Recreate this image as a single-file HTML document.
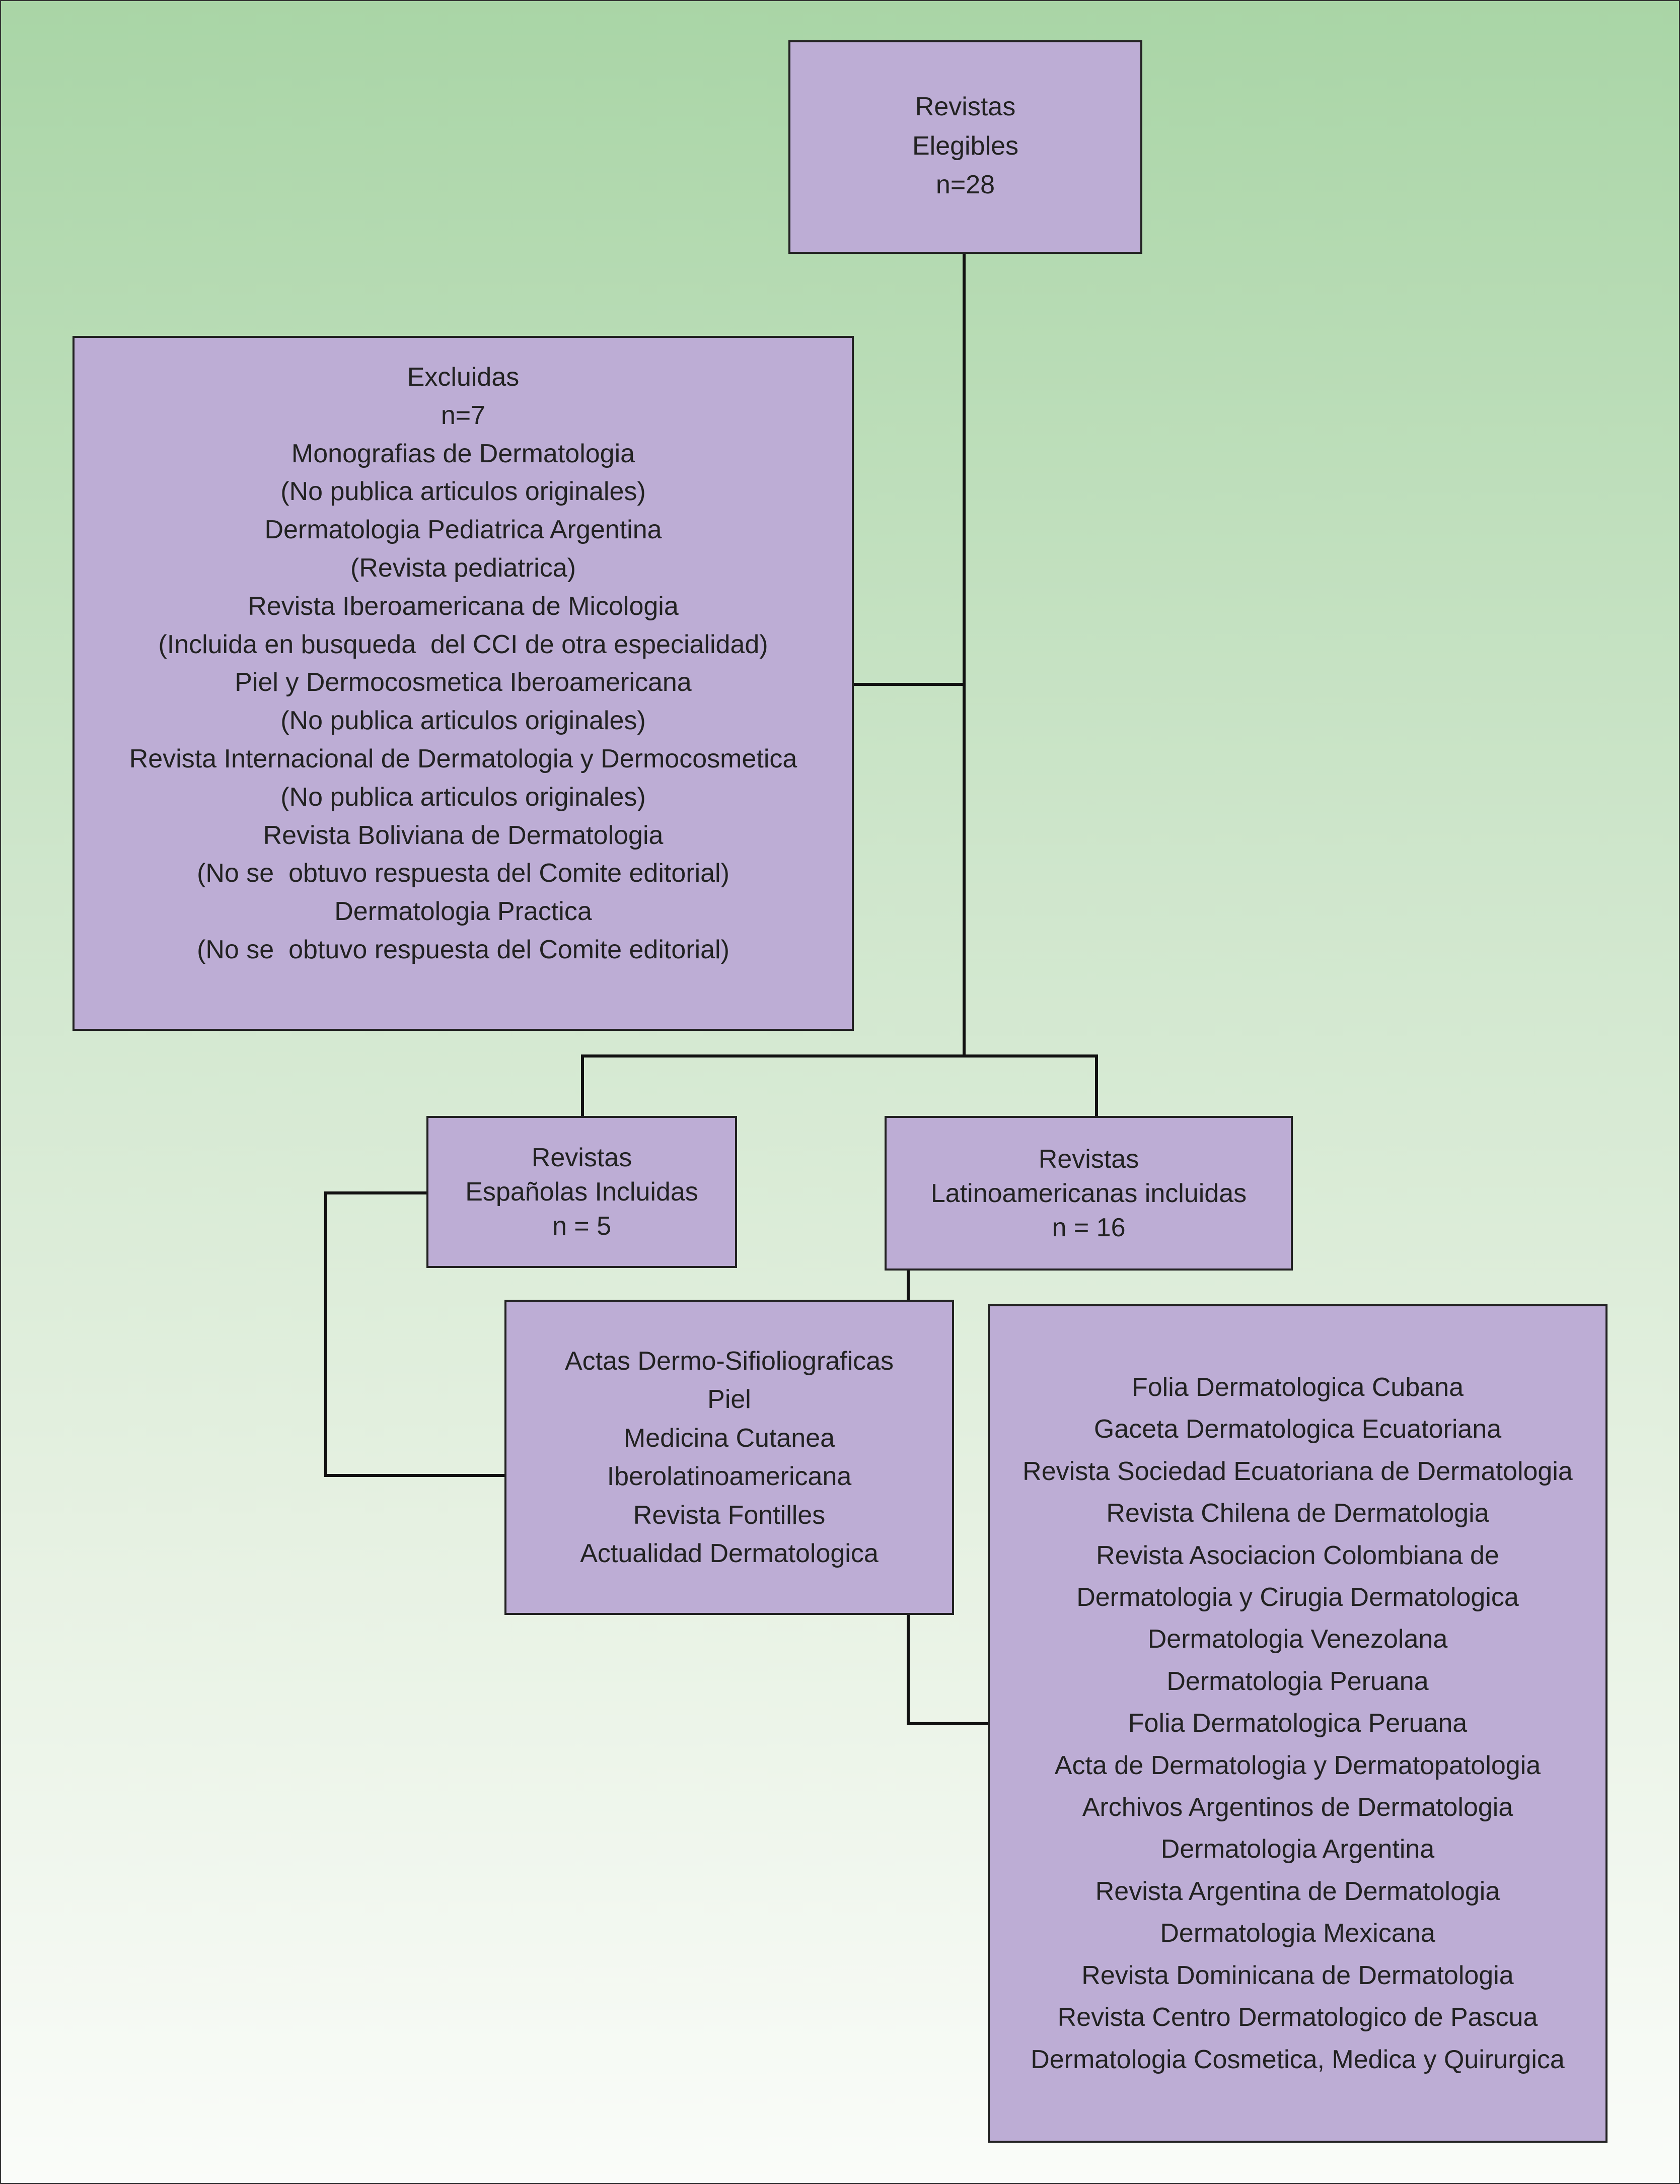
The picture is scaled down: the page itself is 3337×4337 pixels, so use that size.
<!DOCTYPE html>
<html><head><meta charset="utf-8"><style>
html,body{margin:0;padding:0}
body{width:3337px;height:4337px;position:relative;overflow:hidden;
background:linear-gradient(to bottom,#a9d5a6 0%,#cfe6cc 40%,#e6f1e2 70%,#fafcf9 100%);
font-family:"Liberation Sans",Arial,sans-serif;color:#222}
.frame{position:absolute;left:0;top:0;width:3333px;height:4333px;border:2px solid #333}
.b{position:absolute;background:#bdadd5;border:4px solid #222;box-sizing:border-box}
.t{position:absolute;left:0;right:0;text-align:center;font-size:52px;white-space:nowrap}
.l{position:absolute;background:#111}
</style></head><body>
<div class="frame"></div>

<!-- connectors -->
<div class="l" style="left:1912px;top:504px;width:6px;height:1596px"></div>
<div class="l" style="left:1696px;top:1356px;width:222px;height:6px"></div>
<div class="l" style="left:1154px;top:2094px;width:1027px;height:6px"></div>
<div class="l" style="left:1154px;top:2094px;width:6px;height:136px"></div>
<div class="l" style="left:2175px;top:2094px;width:6px;height:124px"></div>
<div class="l" style="left:644px;top:2366px;width:205px;height:6px"></div>
<div class="l" style="left:644px;top:2366px;width:6px;height:567px"></div>
<div class="l" style="left:644px;top:2927px;width:360px;height:6px"></div>
<div class="l" style="left:1801px;top:2521px;width:6px;height:62px"></div>
<div class="l" style="left:1801px;top:3205px;width:6px;height:221px"></div>
<div class="l" style="left:1801px;top:3420px;width:163px;height:6px"></div>

<div class="b" style="left:1566px;top:80px;width:703px;height:424px"></div>
<div class="t" style="left:1566px;width:703px;top:174px;line-height:77.5px">Revistas<br>Elegibles<br>n=28</div>

<div class="b" style="left:144px;top:667px;width:1552px;height:1380px"></div>
<div class="t" style="left:144px;width:1552px;top:712px;line-height:75.8px">Excluidas<br>n=7<br>Monografias de Dermatologia<br>(No publica articulos originales)<br>Dermatologia Pediatrica Argentina<br>(Revista pediatrica)<br>Revista Iberoamericana de Micologia<br>(Incluida en busqueda&nbsp; del CCI de otra especialidad)<br>Piel y Dermocosmetica Iberoamericana<br>(No publica articulos originales)<br>Revista Internacional de Dermatologia y Dermocosmetica<br>(No publica articulos originales)<br>Revista Boliviana de Dermatologia<br>(No se&nbsp; obtuvo respuesta del Comite editorial)<br>Dermatologia Practica<br>(No se&nbsp; obtuvo respuesta del Comite editorial)</div>

<div class="b" style="left:847px;top:2216px;width:617px;height:302px"></div>
<div class="t" style="left:847px;width:617px;top:2265px;line-height:68px">Revistas<br>Españolas Incluidas<br>n = 5</div>

<div class="b" style="left:1757px;top:2216px;width:811px;height:307px"></div>
<div class="t" style="left:1757px;width:811px;top:2268px;line-height:68px">Revistas<br>Latinoamericanas incluidas<br>n = 16</div>

<div class="b" style="left:1002px;top:2581px;width:893px;height:626px"></div>
<div class="t" style="left:1002px;width:893px;top:2665px;line-height:76.4px">Actas Dermo-Sifioliograficas<br>Piel<br>Medicina Cutanea<br>Iberolatinoamericana<br>Revista Fontilles<br>Actualidad Dermatologica</div>

<div class="b" style="left:1962px;top:2590px;width:1231px;height:1665px"></div>
<div class="t" style="left:1962px;width:1231px;top:2714px;line-height:83.4px">Folia Dermatologica Cubana<br>Gaceta Dermatologica Ecuatoriana<br>Revista Sociedad Ecuatoriana de Dermatologia<br>Revista Chilena de Dermatologia<br>Revista Asociacion Colombiana de<br>Dermatologia y Cirugia Dermatologica<br>Dermatologia Venezolana<br>Dermatologia Peruana<br>Folia Dermatologica Peruana<br>Acta de Dermatologia y Dermatopatologia<br>Archivos Argentinos de Dermatologia<br>Dermatologia Argentina<br>Revista Argentina de Dermatologia<br>Dermatologia Mexicana<br>Revista Dominicana de Dermatologia<br>Revista Centro Dermatologico de Pascua<br>Dermatologia Cosmetica, Medica y Quirurgica</div>
</body></html>
